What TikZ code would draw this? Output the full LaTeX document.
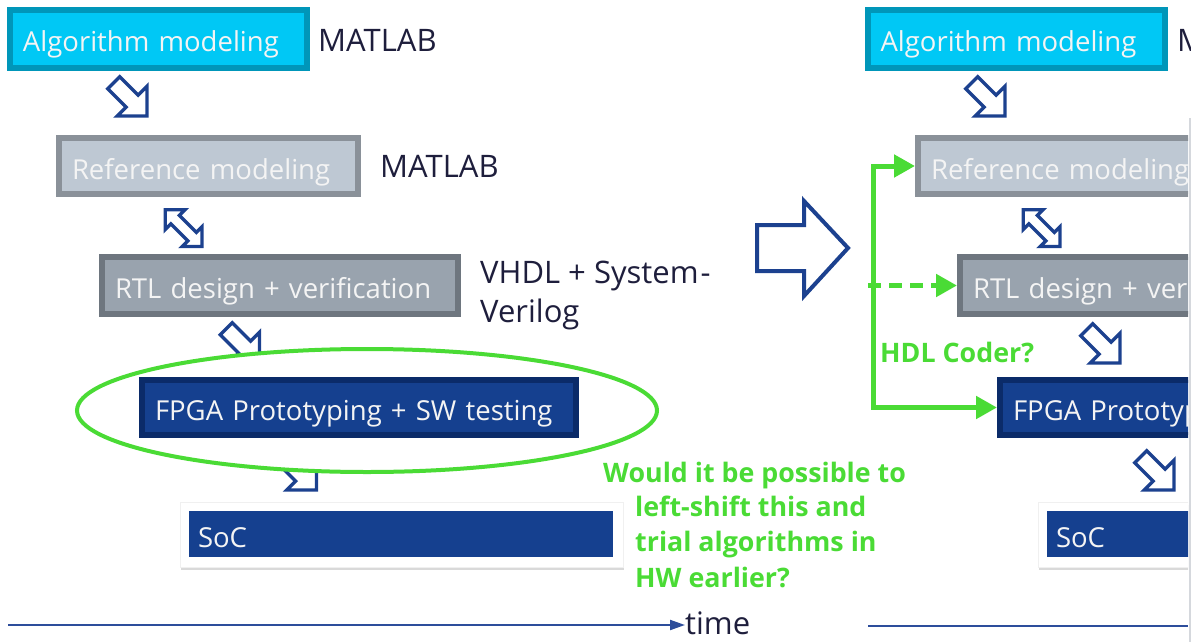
\documentclass[tikz,border=0pt]{standalone}
\usepackage{fontspec}
\setmainfont{Open Sans}
\usetikzlibrary{arrows.meta,shapes.geometric,shadows}
\definecolor{algfill}{HTML}{00C8F5}
\definecolor{algborder}{HTML}{0096B9}
\definecolor{reffill}{HTML}{BEC8D3}
\definecolor{refborder}{HTML}{8A9199}
\definecolor{rtlfill}{HTML}{99A3AE}
\definecolor{rtlborder}{HTML}{6E767F}
\definecolor{fpgafill}{HTML}{15408F}
\definecolor{fpgaborder}{HTML}{0B2B69}
\definecolor{arrowblue}{HTML}{1C418F}
\definecolor{qgreen}{HTML}{4ADB35}
\definecolor{darktext}{HTML}{1E1E3C}
\definecolor{tlinec}{HTML}{2D4D9B}
\definecolor{boxtext}{HTML}{F4F4F4}
\definecolor{edgegrey}{HTML}{D5D8DD}
\newcommand\boxfont{\fontsize{27.5}{30}\selectfont}
\newcommand\bigfont{\fontsize{31}{34}\selectfont}
\newcommand\qfont{\fontsize{26.8}{30}\selectfont\bfseries}
\begin{document}
\begin{tikzpicture}[x=1pt,y=-1pt,
  box/.style={draw, line width=6pt, inner xsep=13pt, inner ysep=0pt, text height=26pt, text depth=0pt, align=left, font=\boxfont, text=boxtext},
  algbox/.style={box, draw=algborder, fill=algfill, minimum width=297pt, minimum height=58pt, text width=271pt},
  refbox/.style={box, draw=refborder, fill=reffill, minimum width=299pt, minimum height=56pt, text width=273pt},
  rtlbox/.style={box, draw=rtlborder, fill=rtlfill, minimum width=356pt, minimum height=57pt, text width=330pt},
  fpgabox/.style={box, draw=fpgaborder, fill=fpgafill, minimum width=434pt, minimum height=55pt, text width=408pt},
  card/.style={draw=black!6, fill=white, line width=0.6pt, minimum width=443pt, minimum height=65pt, inner sep=0pt,
     drop shadow={shadow xshift=0.8pt, shadow yshift=-3pt, opacity=0.3}},
  socbox/.style={box, draw=none, fill=fpgafill, minimum width=424pt, minimum height=46pt, inner xsep=9pt, text width=406pt},
  tool/.style={anchor=base west, inner sep=0pt, font=\bigfont, text=darktext},
  qtext/.style={anchor=base west, inner sep=0pt, font=\qfont, text=qgreen},
  hollow/.style={draw=arrowblue, line width=3.4pt, fill=white, line join=miter},
  garrow/.style={draw=qgreen, line width=5pt, -{Triangle[length=21pt,width=22pt]}},
  tline/.style={draw=tlinec, line width=2pt},
  harrow/.pic={\draw[hollow] (0,0) -- (-21,21) -- (-21,8.5) -- (-47,8.5) -- (-47,-8.5) -- (-21,-8.5) -- (-21,-21) -- cycle;},
  dharrow/.pic={\draw[hollow] (0,0) -- (-14,14) -- (-14,6) -- (-38,6) -- (-38,14) -- (-52,0) -- (-38,-14) -- (-38,-6) -- (-14,-6) -- (-14,-14) -- cycle;}
]
\useasboundingbox (0,0) rectangle (1191,642);

% ---------- left column ----------
\node[algbox] (algL) at (158.5,39) {Algorithm modeling};
\node[tool] (matL1) at (318,52) {MATLAB};
\node[refbox] (refL) at (208.5,166) {Reference modeling};
\node[tool] (matL2) at (380,177) {MATLAB};
\node[rtlbox] (rtlL) at (280,285.5) {RTL design + verification};
\node[tool] (vhdl1) at (480,283) {VHDL + System\kern2pt-};
\node[tool] (vhdl2) at (480,322) {Verilog};

\pic[rotate=-45] at (147,116) {harrow};
\pic[rotate=-45] at (202,246.5) {dharrow};
\pic[rotate=-45] at (259.5,362) {harrow};
\pic[rotate=-45] at (316.5,490) {harrow};

\node[ellipse, draw=qgreen, line width=4pt, fill=white, minimum width=580pt, minimum height=123pt] (ring) at (367,410.5) {};
\node[fpgabox] (fpgaL) at (359,407.5) {FPGA Prototyping + SW testing};

\node[card] (socLcard) at (401.5,534.5) {};
\node[socbox] (socL) at (401,534) {SoC};

\node[qtext] (q1) at (603,482) {Would it be possible to};
\node[qtext] (q2) at (635,516) {left-shift this and};
\node[qtext] (q3) at (635,551) {trial algorithms in};
\node[qtext] (q4) at (635,587) {HW earlier?};

% ---------- big transition arrow ----------
\draw[hollow, line width=4pt] (757,225) -- (804,225) -- (804,201) -- (848,248) -- (804,296) -- (804,271) -- (757,271) -- cycle;

% ---------- right column ----------
\begin{scope}
\clip (850,0) -- (1191,0) -- (1191,118) -- (1188,118) -- (1188,642) -- (850,642) -- cycle;
\node[algbox] (algR) at (1016,39) {Algorithm modeling};
\node[tool] (matR) at (1177,52) {MATLAB};
\node[refbox] (refR) at (1067.5,166) {Reference modeling};
\node[rtlbox] (rtlR) at (1138,285.5) {RTL design + verification};
\node[fpgabox] (fpgaR) at (1217,407.5) {FPGA Prototyping + SW testing};
\node[card] (socRcard) at (1259.5,534.5) {};
\node[socbox] (socR) at (1259,534) {SoC};
\pic[rotate=-45] at (1005,116) {harrow};
\pic[rotate=-45] at (1060,246.5) {dharrow};
\pic[rotate=-45] at (1120,363) {harrow};
\pic[rotate=-45] at (1174,490) {harrow};
\end{scope}
\draw[line width=2pt, edgegrey] (1189.5,118) -- (1189.5,642);

% ---------- green connectors ----------
\coordinate (trunk) at (873,0);
\coordinate (dstart) at (868,285.5);
\draw[garrow, line cap=rect] (trunk |- fpgaR.west) |- (refR.west);
\draw[garrow] (trunk |- fpgaR.west) -- (fpgaR.west);
\draw[garrow, dash pattern=on 13pt off 8pt] (dstart) -- (rtlR.west);
\node[qtext] (hdl) at (880,362) {HDL Coder?};

% ---------- time axis ----------
\node[anchor=base west, inner sep=0pt, font=\bigfont, text=darktext] (time) at (685,634) {time};
\coordinate (t0) at (8,625);
\draw[tline, -{Triangle[length=15pt,width=10pt]}] (t0) -- (t0 -| time.west);
\coordinate (t1) at (868,626);
\coordinate (t2) at (1188,626);
\draw[tline] (t1) -- (t2);
\end{tikzpicture}
\end{document}
